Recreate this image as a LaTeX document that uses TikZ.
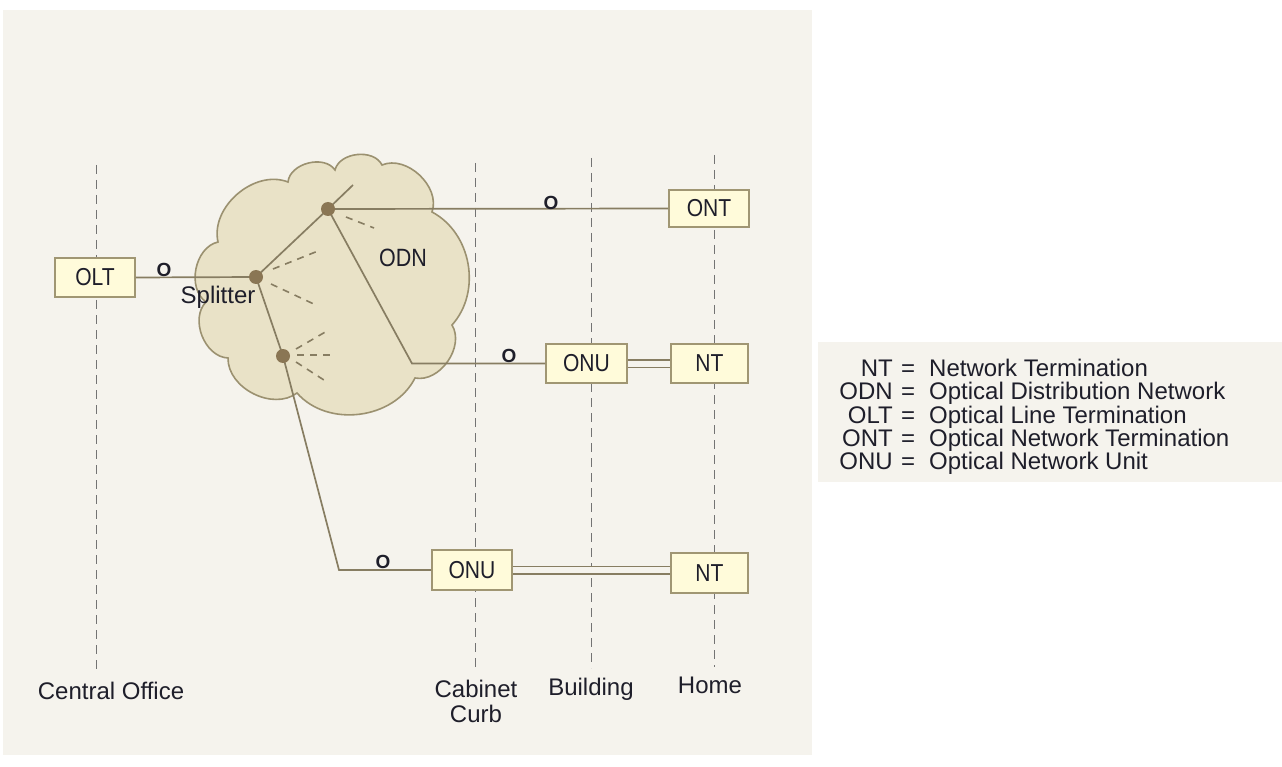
\documentclass[tikz,border=0pt]{standalone}
\usepackage{fontspec}
\setmainfont{Liberation Sans}
\newfontfamily\narrowfont{Liberation Sans}[FakeStretch=0.86]
\definecolor{panelbg}{RGB}{245,243,237}
\definecolor{cloudfill}{RGB}{233,226,199}
\definecolor{cloudedge}{RGB}{155,145,112}
\definecolor{fiber}{RGB}{135,125,98}
\definecolor{dotc}{RGB}{138,118,84}
\definecolor{boxfill}{RGB}{255,251,218}
\definecolor{boxedge}{RGB}{160,150,115}
\definecolor{txt}{RGB}{30,30,42}
\definecolor{guide}{RGB}{115,115,115}
\begin{document}
\begin{tikzpicture}[x=1pt,y=-1pt,
  unitbox/.style={draw=boxedge,fill=boxfill,line width=1.7pt,inner sep=0pt,text=txt,font=\narrowfont\fontsize{24.5}{24.5}\selectfont},
  fiberline/.style={draw=fiber,line width=1.7pt},
  fiberdash/.style={draw=fiber,line width=1.6pt,dash pattern=on 7pt off 6pt},
  guideline/.style={draw=guide,line width=1pt,dash pattern=on 9pt off 6pt},
  splitdot/.style={circle,fill=dotc,inner sep=0pt,minimum size=14pt},
  lbl/.style={text=txt,font=\fontsize{24}{25}\selectfont,inner sep=0pt},
  olabel/.style={text=txt,font=\fontsize{19}{19}\selectfont\bfseries,inner sep=0pt},
  legtxt/.style={text=txt,font=\fontsize{24}{24}\selectfont,inner sep=0pt},
  twin/.style={draw=fiber,line width=1.5pt,double=panelbg,double distance=6pt}]
\useasboundingbox (0,0) rectangle (1282,767);
\fill[white] (0,0) rectangle (1282,767);
\fill[panelbg] (3,10) rectangle (812,755);
\fill[panelbg] (818,342) rectangle (1282,482);

% guide lines
\coordinate (g1a) at (96,165); \coordinate (g1b) at (96,672);
\coordinate (g2a) at (475,163); \coordinate (g2b) at (475,670);
\coordinate (g3a) at (591,158); \coordinate (g3b) at (591,668);
\coordinate (g4a) at (714,155); \coordinate (g4b) at (714,667);
\draw[guideline] (g1a) -- (g1b);
\draw[guideline] (g2a) -- (g2b);
\draw[guideline] (g3a) -- (g3b);
\draw[guideline] (g4a) -- (g4b);

% cloud
\draw[fill=cloudfill,draw=cloudedge,line width=1.6pt]
  (218,242) to[bend left=62] (288,182) to[bend left=70] (335,170)
  to[bend left=70] (382,165) to[bend left=66] (432,212)
  to[bend left=52] (452,325) to[bend left=66] (415,378)
  to[bend left=56] (297,393) to[bend left=64] (228,358)
  to[bend left=66] (206,302) to[bend left=66] (218,242) -- cycle;

% boxes
\node[unitbox,minimum width=80pt,minimum height=39pt] (olt) at (95,277.5) {OLT};
\node[unitbox,minimum width=80pt,minimum height=37pt] (ont) at (709,208.5) {ONT};
\node[unitbox,minimum width=81pt,minimum height=39pt] (onu1) at (586.5,363.5) {ONU};
\node[unitbox,minimum width=77pt,minimum height=39pt] (nt1) at (709.5,363.5) {NT};
\node[unitbox,minimum width=80pt,minimum height=40pt] (onu2) at (472,570) {ONU};
\node[unitbox,minimum width=77pt,minimum height=40pt] (nt2) at (709.5,573) {NT};

% splitters
\coordinate (sp) at (256,277);
\coordinate (s2) at (328,209);
\coordinate (s3) at (283,356);
\coordinate (stub) at (353,185);
\coordinate (c1) at (412,363.5);
\coordinate (c2) at (339,570);

\draw[fiberline] (olt.east) -- (sp);
\draw[fiberline] (sp) -- (s2);
\draw[fiberline] (s2) -- (stub);
\draw[fiberline] (s2) -- (ont.west);
\draw[fiberline] (s2) -- (c1) -- (onu1.west);
\draw[fiberline] (sp) -- (s3) -- (c2) -- (onu2.west);
\draw[twin] (onu1.east) -- (onu1.east -| nt1.west);
\draw[twin] (onu2.east) -- (onu2.east -| nt2.west);

% dashed split branches
\coordinate (d1a) at (273,269); \coordinate (d1b) at (318,251);
\coordinate (d2a) at (271,284); \coordinate (d2b) at (318,306);
\coordinate (d3a) at (346,217); \coordinate (d3b) at (374,228);
\coordinate (d4a) at (296,349); \coordinate (d4b) at (327,331);
\coordinate (d5a) at (297,355); \coordinate (d5b) at (336,355);
\coordinate (d6a) at (296,362); \coordinate (d6b) at (327,382);
\draw[fiberdash] (d1a) -- (d1b);
\draw[fiberdash] (d2a) -- (d2b);
\draw[fiberdash] (d3a) -- (d3b);
\draw[fiberdash] (d4a) -- (d4b);
\draw[fiberdash] (d5a) -- (d5b);
\draw[fiberdash] (d6a) -- (d6b);

\node[splitdot] (spdot) at (sp) {};
\node[splitdot] (s2dot) at (s2) {};
\node[splitdot] (s3dot) at (s3) {};

% labels
\node[olabel] (o1) at (164,270) {O};
\node[olabel] (o2) at (551,203) {O};
\node[olabel] (o3) at (509,356) {O};
\node[olabel] (o4) at (383,562) {O};
\node[lbl] (splab) at (218,297) {Splitter};
\node[lbl,font=\narrowfont\fontsize{25}{25}\selectfont] (odn) at (403,258) {ODN};
\node[lbl] (co) at (111,691) {Central Office};
\node[lbl] (cab) at (476,689) {Cabinet};
\node[lbl] (curb) at (476,714) {Curb};
\node[lbl] (bld) at (591,689) {Building};
\node[lbl] (home) at (710,685) {Home};

% legend
\foreach \ab/\desc [count=\i from 0] in {NT/Network Termination,ODN/Optical Distribution Network,OLT/Optical Line Termination,ONT/Optical Network Termination,ONU/Optical Network Unit}{
  \node[legtxt,anchor=base east] (ab\i) at (893,376.5+23.3*\i) {\ab};
  \node[legtxt,anchor=base] (eq\i) at (908,376.5+23.3*\i) {=};
  \node[legtxt,anchor=base west] (de\i) at (929,376.5+23.3*\i) {\desc};
}
\end{tikzpicture}
\end{document}
